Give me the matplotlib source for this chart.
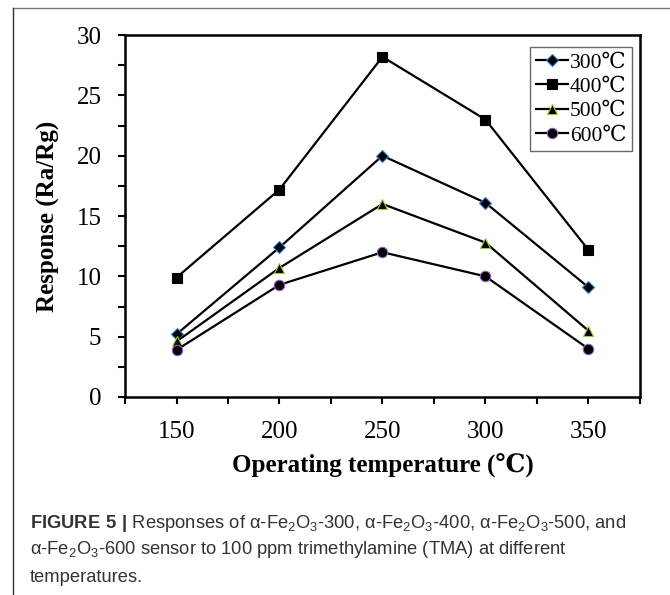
import numpy as np
import matplotlib
matplotlib.use('Agg')
import matplotlib.pyplot as plt
from matplotlib.lines import Line2D

plt.rcParams['font.family'] = ['Liberation Serif', 'DejaVu Serif']
plt.rcParams['mathtext.fontset'] = 'custom'
plt.rcParams['mathtext.rm'] = 'Liberation Sans'
plt.rcParams['mathtext.bf'] = 'Liberation Sans:bold'

# data
temps = [150, 200, 250, 300, 350]
labels = ['300℃', '400℃', '500℃', '600℃']
resp_300 = [5.2, 12.4, 20.0, 16.1, 9.1]
resp_400 = [9.9, 17.2, 28.2, 23.0, 12.2]
resp_500 = [4.6, 10.7, 16.0, 12.8, 5.5]
resp_600 = [3.9, 9.3, 12.0, 10.0, 4.0]

series = [resp_300, resp_400, resp_500, resp_600]
markers = ['D', 's', '^', 'o']
edges = ['#2f7fd8', 'black', '#9acd32', '#9b59c9']
sizes = [6, 6.5, 7, 7.5]

fig = plt.figure(figsize=(6.7, 5.95), dpi=100)
ax = fig.add_axes([0.1866, 0.3328, 0.955 - 0.1866, 0.941 - 0.3328])

for vals, m, ec, ms, lab in zip(series, markers, edges, sizes, labels):
    ax.plot(temps, vals, color='black', lw=1.6, marker=m, ms=ms,
            mfc='black', mec=ec, mew=0.8, label=lab)

ax.set_xlim(125, 375)
ax.set_ylim(0, 30)
ax.set_xticks(np.arange(125, 376, 25))
ax.set_xticklabels(['' if t % 50 else str(t) for t in range(125, 376, 25)])
ax.set_yticks(np.arange(0, 30.1, 2.5))
ax.set_yticklabels([str(int(v)) if v % 5 == 0 else '' for v in np.arange(0, 30.1, 2.5)])
ax.tick_params(direction='out', length=5, width=1.5, labelsize=18)
ax.tick_params(axis='y', pad=12)
ax.tick_params(axis='x', pad=12)
for s in ax.spines.values():
    s.set_linewidth(1.8)

ax.set_xlabel('Operating temperature (℃)', fontsize=18, fontweight='bold',
              family=['Liberation Serif', 'DejaVu Serif'], labelpad=8)
ax.set_ylabel('Response (Ra/Rg)', fontsize=18, fontweight='bold', labelpad=12)

leg = ax.legend(loc='upper right', bbox_to_anchor=(0.997, 0.985),
                frameon=True, fancybox=False, edgecolor='#444444',
                handlelength=1.5, handletextpad=0.1, borderpad=0.25,
                labelspacing=0.2, borderaxespad=0.3,
                prop={'family': ['Liberation Serif', 'DejaVu Serif'], 'size': 15.5})
leg.get_frame().set_linewidth(1.0)

# outer panel border (top and left)
fig.add_artist(Line2D([13 / 670, 1], [1 - 8 / 595, 1 - 8 / 595], color='#777777', lw=1))
fig.add_artist(Line2D([13 / 670, 13 / 670], [0, 1 - 8 / 595], color='#333333', lw=1))

cap_lines = [
    r'$\mathbf{FIGURE\ 5\ |}$ Responses of α-Fe$_2$O$_3$-300, α-Fe$_2$O$_3$-400, α-Fe$_2$O$_3$-500, and',
    r'α-Fe$_2$O$_3$-600 sensor to 100 ppm trimethylamine (TMA) at different',
    'temperatures.',
]
for i, line in enumerate(cap_lines):
    fig.text(30 / 670, 1 - (523 + 27 * i) / 595, line, fontsize=13.2,
             family='Liberation Sans', color='#333333', va='center', ha='left')

fig.savefig('out.png', dpi=100)
